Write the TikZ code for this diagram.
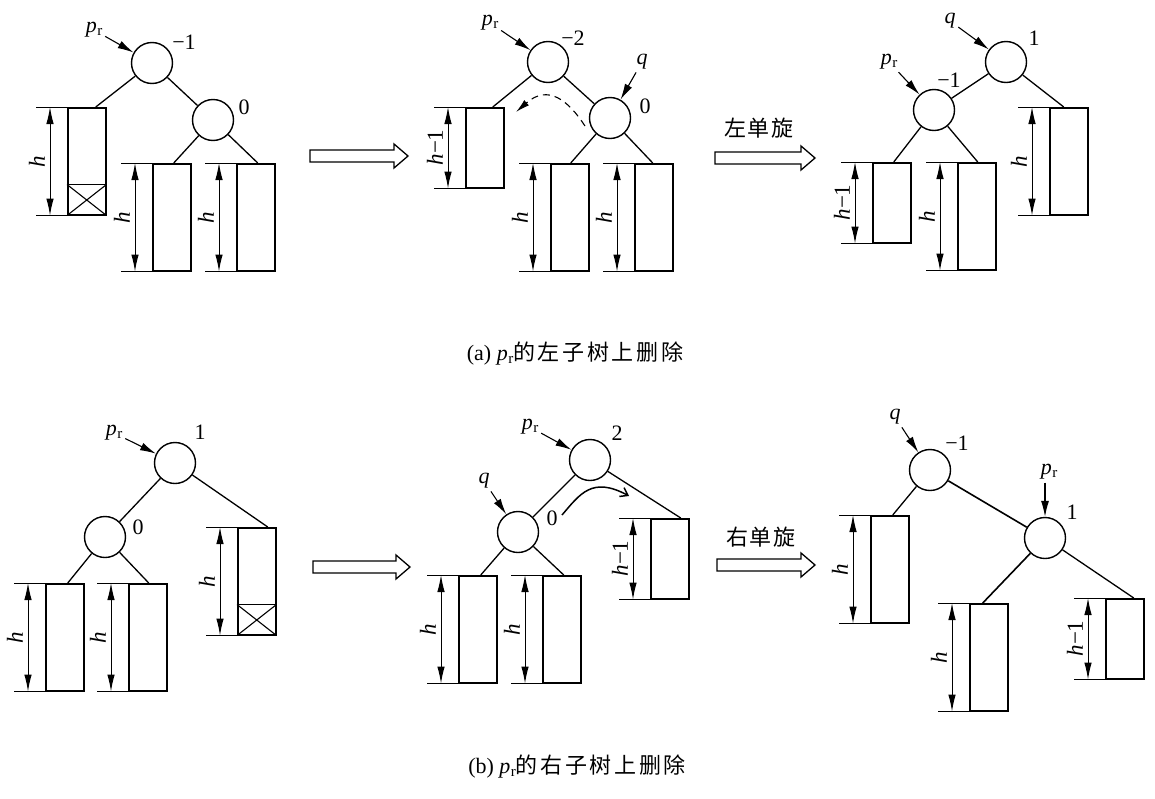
\documentclass[tikz,border=0pt]{standalone}
\usepackage{fontspec}
\setmainfont{Liberation Serif}
\newfontfamily\cjk[LetterSpace=8]{Noto Sans CJK SC}
\newfontfamily\cjkw[LetterSpace=12]{Noto Sans CJK SC}
\usetikzlibrary{arrows.meta,calc}

\newcommand\prr{\textit{p}\kern0.5pt\raisebox{-0.25ex}{\fontsize{15}{15}\selectfont r}}
\newcommand\hh{\textit{h}}
\newcommand\hm{\textit{h}\kern0.5pt−1}

\newcommand\dimh[2]{%
  \draw[line width=0.9pt] ([xshift=-31pt]#1.north west) -- (#1.north west);
  \draw[line width=0.9pt] ([xshift=-31pt]#1.south west) -- (#1.south west);
  \draw[dimar] ([xshift=-17pt]#1.north west) -- ([xshift=-17pt]#1.south west);
  \node[hlbl,rotate=90] at ([xshift=-30pt]#1.west) {#2};}

\newcommand\crossed[1]{%
  \coordinate (#1c1) at ([yshift=31pt]#1.south west);
  \coordinate (#1c2) at ([yshift=31pt]#1.south east);
  \draw[line width=1.4pt] (#1c1) -- (#1c2);
  \draw[line width=1.1pt] (#1c1) -- (#1.south east) (#1c2) -- (#1.south west);}

\newcommand\bigarr[3]{%
  \draw[line width=1.3pt] (#1,{#3-6}) -- ({#2-14},{#3-6}) -- ({#2-14},{#3-12}) -- (#2,#3)
    -- ({#2-14},{#3+12}) -- ({#2-14},{#3+6}) -- (#1,{#3+6}) -- cycle;}

\tikzset{
  nd/.style={circle,draw,line width=1.4pt,minimum size=41pt,inner sep=0pt},
  tbox/.style={draw,line width=1.5pt,anchor=north west,minimum width=38pt,inner sep=0pt},
  hbox/.style={tbox,minimum height=107pt},
  sbox/.style={tbox,minimum height=80pt},
  tline/.style={line width=1.3pt},
  ptr/.style={line width=1.1pt,shorten <=2pt,-{Latex[length=16pt,width=8pt]}},
  dimar/.style={line width=1pt,{Latex[length=17pt,width=7.5pt]}-{Latex[length=17pt,width=7.5pt]}},
  lbl/.style={font=\fontsize{22}{22}\selectfont,inner sep=1pt},
  hlbl/.style={font=\fontsize{23}{23}\selectfont,inner sep=0pt},
  captxt/.style={font=\fontsize{22}{22}\selectfont,inner sep=0pt},
}

\begin{document}
\begin{tikzpicture}[x=1pt,y=-1pt]
\useasboundingbox (0,0) rectangle (1155,798);

% ---------- (a) panel 1 ----------
\node[nd] (a1p) at (152,63) {};
\node[nd] (a1q) at (213,120) {};
\node[hbox] (a1L) at (67,107) {};
\node[hbox] (a1M) at (152,163) {};
\node[hbox] (a1R) at (236,163) {};
\node[lbl] (a1pl) at (94,30) {\prr};
\node[lbl] at (184,42) {−1};
\node[lbl] at (244,107) {0};
\draw[ptr] (a1pl) -- (a1p);
\draw[tline] (a1p) -- ([xshift=9pt]a1L.north);
\draw[tline] (a1p) -- (a1q);
\draw[tline] (a1q) -- ([xshift=2pt]a1M.north);
\draw[tline] (a1q) -- ([xshift=2pt]a1R.north);
\crossed{a1L}
\dimh{a1L}{\hh}
\dimh{a1M}{\hh}
\dimh{a1R}{\hh}

\bigarr{310}{408}{156}

% ---------- (a) panel 2 ----------
\node[nd] (a2p) at (548,62) {};
\node[nd] (a2q) at (610,118) {};
\node[sbox] (a2L) at (465,107) {};
\node[hbox] (a2M) at (550,163) {};
\node[hbox] (a2R) at (634,163) {};
\node[lbl] (a2pl) at (490,23) {\prr};
\node[lbl] at (573,38) {−2};
\node[lbl] (a2ql) at (642,62) {\textit{q}};
\node[lbl] at (645,106) {0};
\draw[ptr] (a2pl) -- (a2p);
\draw[ptr] (a2ql) -- (a2q);
\draw[tline] (a2p) -- ([xshift=8pt]a2L.north);
\draw[tline] (a2p) -- (a2q);
\draw[tline] (a2q) -- ([xshift=1pt]a2M.north);
\draw[tline] (a2q) -- ([xshift=-1pt]a2R.north);
\coordinate (a2s) at (585,126);
\coordinate (a2e) at (516,112);
\draw[line width=1.1pt,dash pattern=on 7pt off 5pt,-{Latex[length=14pt,width=7pt]}]
  (a2s) .. controls (568,100) and (548,84) .. (a2e);
\dimh{a2L}{\hm}
\dimh{a2M}{\hh}
\dimh{a2R}{\hh}

\node[font=\fontsize{22}{22}\selectfont\cjk,inner sep=0pt] at (759,128) {左单旋};
\bigarr{715}{815}{158}

% ---------- (a) panel 3 ----------
\node[nd] (a3q) at (1006,62) {};
\node[nd] (a3p) at (934,110) {};
\node[sbox] (a3L) at (872,162) {};
\node[hbox] (a3M) at (957,162) {};
\node[hbox] (a3R) at (1049,107) {};
\node[lbl] (a3ql) at (950,21) {\textit{q}};
\node[lbl] at (1034,38) {1};
\node[lbl] (a3pl) at (889,62) {\prr};
\node[lbl] at (949,80) {−1};
\draw[ptr] (a3ql) -- (a3q);
\draw[ptr] (a3pl) -- (a3p);
\draw[tline] (a3q) -- (a3p);
\draw[tline] (a3q) -- ([xshift=-5pt]a3R.north);
\draw[tline] (a3p) -- ([xshift=2pt]a3L.north);
\draw[tline] (a3p) -- ([xshift=1pt]a3M.north);
\dimh{a3L}{\hm}
\dimh{a3M}{\hh}
\dimh{a3R}{\hh}

\node[captxt] at (575,354) {(a) \prr{\fontsize{22}{22}\selectfont\cjkw 的左子树上删除}};

% ---------- (b) panel 1 ----------
\node[nd] (b1p) at (175,463) {};
\node[nd] (b1q) at (105,537) {};
\node[hbox] (b1L) at (45,583) {};
\node[hbox] (b1M) at (128,583) {};
\node[hbox] (b1R) at (237,527) {};
\node[lbl] (b1pl) at (114,433) {\prr};
\node[lbl] at (200,432) {1};
\node[lbl] at (138,527) {0};
\draw[ptr] (b1pl) -- (b1p);
\draw[tline] (b1p) -- (b1q);
\draw[tline] (b1p) -- ([xshift=11pt]b1R.north);
\draw[tline] (b1q) -- ([xshift=3pt]b1L.north);
\draw[tline] (b1q) -- ([xshift=1pt]b1M.north);
\crossed{b1R}
\dimh{b1L}{\hh}
\dimh{b1M}{\hh}
\dimh{b1R}{\hh}

\bigarr{313}{410}{567}

% ---------- (b) panel 2 ----------
\node[nd] (b2p) at (590,460) {};
\node[nd] (b2q) at (518,532) {};
\node[hbox] (b2L) at (458,575) {};
\node[hbox] (b2M) at (542,575) {};
\node[sbox] (b2R) at (650,518) {};
\node[lbl] (b2pl) at (530,427) {\prr};
\node[lbl] at (617,433) {2};
\node[lbl] (b2ql) at (484,481) {\textit{q}};
\node[lbl] at (552,518) {0};
\draw[ptr] (b2pl) -- (b2p);
\draw[ptr] (b2ql) -- (b2q);
\draw[tline] (b2p) -- (b2q);
\draw[tline] (b2p) -- ([xshift=11pt]b2R.north);
\draw[tline] (b2q) -- ([xshift=3pt]b2L.north);
\draw[tline] (b2q) -- ([xshift=2pt]b2M.north);
\coordinate (b2s) at (562,515);
\coordinate (b2e) at (629,496);
\draw[line width=1.5pt,-{Straight Barb[length=7pt,width=10pt]}]
  (b2s) .. controls (580,494) and (592,476) .. (b2e);
\dimh{b2L}{\hh}
\dimh{b2M}{\hh}
\dimh{b2R}{\hm}

\node[font=\fontsize{22}{22}\selectfont\cjk,inner sep=0pt] at (761,537) {右单旋};
\bigarr{717}{815}{565}

% ---------- (b) panel 3 ----------
\node[nd] (b3q) at (930,470) {};
\node[nd] (b3p) at (1045,538) {};
\node[hbox] (b3L) at (870,515) {};
\node[hbox] (b3M) at (969,603) {};
\node[sbox] (b3R) at (1105,598) {};
\node[lbl] (b3ql) at (895,417) {\textit{q}};
\node[lbl] at (957,443) {−1};
\node[lbl] (b3pl) at (1049,472) {\prr};
\node[lbl] at (1072,512) {1};
\draw[ptr] (b3ql) -- (b3q);
\draw[ptr] (b3pl.south -| b3p.north) -- (b3p);
\draw[tline,line width=1.6pt] (b3q) -- (b3p);
\draw[tline] (b3q) -- ([xshift=3pt]b3L.north);
\draw[tline,line width=1.6pt] (b3p) -- ([xshift=-6pt]b3M.north);
\draw[tline] (b3p) -- ([xshift=9pt]b3R.north);
\dimh{b3L}{\hh}
\dimh{b3M}{\hh}
\dimh{b3R}{\hm}

\node[captxt] at (577,767) {(b) \prr{\fontsize{22}{22}\selectfont\cjkw 的右子树上删除}};
\end{tikzpicture}
\end{document}
